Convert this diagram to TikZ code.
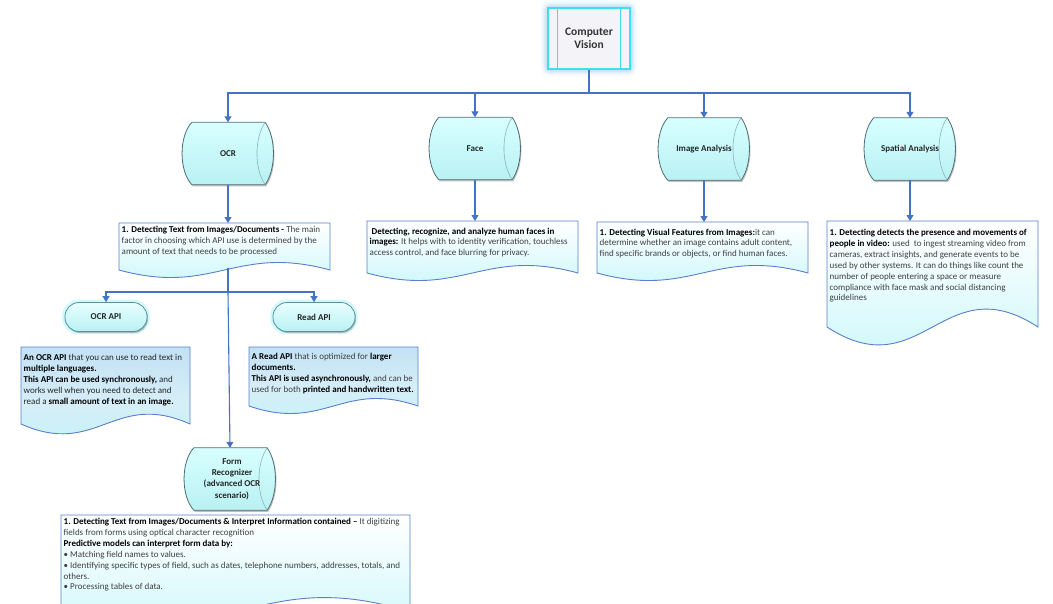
\documentclass[tikz,border=0pt]{standalone}
\usepackage{fontspec}
\setmainfont{Carlito}
\usetikzlibrary{arrows.meta,shadows,backgrounds}
\definecolor{conn}{HTML}{4472C4}
\definecolor{docline}{HTML}{5A7FC8}
\definecolor{docbot}{HTML}{C4F6FA}
\definecolor{apitop}{HTML}{C2E1F3}
\definecolor{apimid}{HTML}{D6EEF8}
\definecolor{apibot}{HTML}{C2F4F8}
\definecolor{cyltop}{HTML}{D8FFFF}
\definecolor{cylbot}{HTML}{B9F1F3}
\definecolor{cylborder}{HTML}{4F6E74}
\definecolor{cylinner}{HTML}{8AB2B8}
\definecolor{txtgray}{HTML}{3F3F3F}
\definecolor{cvline}{HTML}{3FE0EE}
\definecolor{cvfill}{HTML}{F4F4F8}
\definecolor{glowc}{HTML}{9CCBF0}
\definecolor{pillglow}{HTML}{7FF0F5}
\definecolor{pillborder}{HTML}{5A9098}

\newcommand\cylshape[1]{%
  \path[draw=cylborder, line width=0.8pt, top color=cyltop, bottom color=cylbot,
        drop shadow={shadow xshift=1pt, shadow yshift=-1.6pt, opacity=0.5}]
    ([xshift=7pt]#1.north west) -- ([xshift=-6pt]#1.north east)
    .. controls ([xshift=5pt,yshift=-16pt]#1.north east) and ([xshift=5pt,yshift=16pt]#1.south east) .. ([xshift=-6pt]#1.south east)
    -- ([xshift=7pt]#1.south west)
    .. controls ([xshift=-6pt,yshift=14pt]#1.south west) and ([xshift=-6pt,yshift=-14pt]#1.north west) .. cycle;
  \draw[cylinner, line width=0.6pt] ([xshift=-6pt]#1.north east)
    .. controls ([xshift=-17pt,yshift=-16pt]#1.north east) and ([xshift=-17pt,yshift=16pt]#1.south east) .. ([xshift=-6pt]#1.south east);
}
% \docshape{style}{x1}{y1}{x2}{yb}{k}
\newcommand\docshape[6]{%
  \path[#1] (#2,#3) -- (#4,#3) -- (#4,#5)
    .. controls ({#4-0.45*(#4-#2)},{#5-#6}) and ({#2+0.45*(#4-#2)},{#5+#6}) .. (#2,#5) -- cycle;
}

\tikzset{
  arr/.style={draw=conn, line width=1.1pt, -{Triangle[width=7pt,length=6pt]}},
  cyltext/.style={font=\bfseries\fontsize{9}{11.3}\selectfont, align=center, text=black!85,
                  minimum width=86pt, minimum height=62pt, inner sep=0pt},
  doctext/.style={font=\fontsize{9}{10.9}\selectfont, align=left, anchor=north west,
                  inner xsep=2.5pt, inner ysep=2.5pt, text=txtgray},
  docfill/.style={draw=docline, line width=0.9pt, top color=white, bottom color=docbot},
  apifill/.style={draw=docline, line width=0.9pt, top color=apitop, bottom color=apibot, middle color=apimid},
  pill/.style={draw=pillborder, line width=0.8pt, rounded corners=14pt, top color=cyltop!60!white,
               bottom color=cylbot, minimum width=82pt, minimum height=29pt,
               font=\bfseries\fontsize{9}{10}\selectfont, text=black!85,
               drop shadow={shadow xshift=1pt, shadow yshift=-1.5pt, opacity=0.5}},
  cvbox/.style={draw=cvline, line width=1.2pt, fill=cvfill, minimum width=82pt, minimum height=61pt,
                align=center, font=\bfseries\fontsize{11.5}{13.5}\selectfont, text=black!80, inner sep=0pt},
}

\begin{document}
\begin{tikzpicture}[x=1pt, y=-1pt]
\useasboundingbox (0,0) rectangle (1053,603);

% ---------- nodes ----------
\node[cvbox] (cv) at (589,38.5) {Computer\\Vision};

\node[cyltext] (ocr)   at (228,153.5) {OCR};
\node[cyltext] (face)  at (475,148.5) {Face};
\node[cyltext] (img)   at (704,149)   {Image Analysis};
\node[cyltext] (spat)  at (910,149)   {Spatial Analysis};
\node[cyltext] (form)  at (230,479)   {\hspace*{4pt}Form\\\hspace*{4pt}Recognizer\\\hspace*{4pt}(advanced OCR\\\hspace*{4pt}scenario)};

\node[pill] (ocrapi)  at (106,317) {OCR API};
\node[pill] (readapi) at (314,317) {Read API};

\node[doctext, inner ysep=3pt] (ocrdoc) at (119,223) {\textbf{\color{black}1. Detecting Text from Images/Documents -} The main\\
factor in choosing which API use is determined by the\\
amount of text that needs to be processed};

\node[doctext, inner ysep=6.5pt] (facedoc) at (367,221) {\textbf{\color{black}\ Detecting, recognize, and analyze human faces in}\\
\textbf{\color{black}images:} It helps with to identity verification, touchless\\
access control, and face blurring for privacy.};

\node[doctext, inner ysep=6.5pt] (imgdoc) at (597,222) {\textbf{\color{black}1. Detecting Visual Features from Images:}it can\\
determine whether an image contains adult content,\\
find specific brands or objects, or find human faces.};

\node[doctext, inner ysep=8pt] (spatdoc) at (827,221) {\textbf{\color{black}1. Detecting detects the presence and movements of}\\
\textbf{\color{black}people in video:} used\ \ to ingest streaming video from\\
cameras, extract insights, and generate events to be\\
used by other systems. It can do things like count the\\
number of people entering a space or measure\\
compliance with face mask and social distancing\\
guidelines};

\node[doctext, inner ysep=7pt, text=black!85] (ocrapidoc) at (21,347) {\textbf{\color{black}An OCR API} that you can use to read text in\\
\textbf{\color{black}multiple languages.}\\
\textbf{\color{black}This API can be used synchronously,} and\\
works well when you need to detect and\\
read a \textbf{\color{black}small amount of text in an image.}};

\node[doctext, inner ysep=6pt] (readapidoc) at (249,347) {\textbf{\color{black}A Read API} that is optimized for \textbf{\color{black}larger}\\
\textbf{\color{black}documents.}\\
\textbf{\color{black}This API is used asynchronously,} and can be\\
used for both \textbf{\color{black}printed and handwritten text.}};

\node[doctext, inner ysep=3pt] (formdoc) at (61,515) {\textbf{\color{black}1. Detecting Text from Images/Documents \& Interpret Information contained –} It digitizing\\
fields from forms using optical character recognition\\
\textbf{\color{black}Predictive models can interpret form data by:}\\
• Matching field names to values.\\
• Identifying specific types of field, such as dates, telephone numbers, addresses, totals, and\\
others.\\
• Processing tables of data.};

% ---------- shapes behind ----------
\begin{pgfonlayer}{background}
  \foreach \w/\o in {14/0.08, 10/0.12, 7/0.18, 4/0.3} {
    \draw[glowc, line width=\w pt, opacity=\o, rounded corners=3pt] (cv.north west) rectangle (cv.south east);
  }
  \draw[pillglow, line width=5pt, opacity=0.35, rounded corners=14pt] (ocrapi.north west) rectangle (ocrapi.south east);
  \draw[pillglow, line width=5pt, opacity=0.35, rounded corners=14pt] (readapi.north west) rectangle (readapi.south east);
  \cylshape{ocr}
  \cylshape{face}
  \cylshape{img}
  \cylshape{spat}
  \cylshape{form}
  \docshape{docfill}{119}{223}{330}{270}{26}
  \docshape{docfill}{367}{221}{578}{273}{26}
  \docshape{docfill}{597}{222}{808}{273}{26}
  \docshape{docfill}{827}{221}{1038}{327}{62}
  \docshape{apifill}{21}{347}{190}{424}{34}
  \docshape{apifill}{249}{347}{418}{406}{26}
  \docshape{docfill}{61}{515}{410}{612}{50}
\end{pgfonlayer}

\draw[cvline, line width=1.2pt] ([xshift=10pt]cv.north west) -- ([xshift=10pt]cv.south west);
\draw[cvline, line width=1.2pt] ([xshift=-10pt]cv.north east) -- ([xshift=-10pt]cv.south east);

% ---------- connectors ----------
\coordinate (bus) at (589,93);
\draw[arr] (cv.south) |- (bus) -| (ocr.north);
\draw[arr] (cv.south) |- (bus) -| (face.north);
\draw[arr] (cv.south) |- (bus) -| (img.north);
\draw[arr] (cv.south) |- (bus) -| (spat.north);

\draw[arr] (ocr.south)  -- (ocr.south |- ocrdoc.north);
\draw[arr] (face.south) -- (face.south |- facedoc.north);
\draw[arr] (img.south)  -- (img.south |- imgdoc.north);
\draw[arr] (spat.south) -- (spat.south |- spatdoc.north);

\coordinate (ocrdocbot) at (228,268);
\coordinate (split) at (228,292);
\draw[arr] (ocrdocbot) -- (split) -| (ocrapi.north);
\draw[arr] (ocrdocbot) -- (split) -| (readapi.north);
\draw[arr] (split) -- (form.north);
\end{tikzpicture}
\end{document}
